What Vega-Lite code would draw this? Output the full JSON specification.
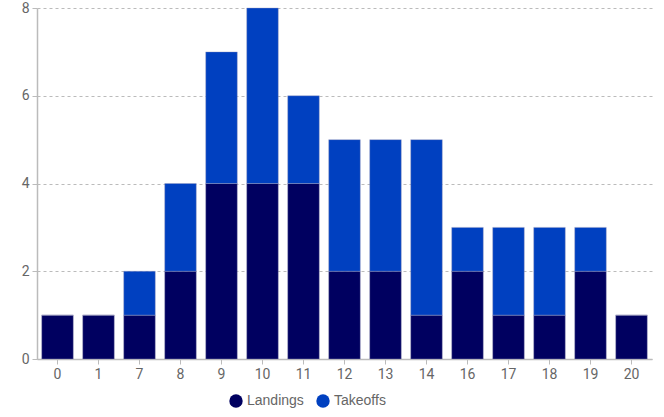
{
  "$schema": "https://vega.github.io/schema/vega-lite/v6.json",
  "width": 615,
  "height": 351,
  "autosize": "none",
  "padding": {"left": 37, "top": 8, "right": 12, "bottom": 58},
  "background": "white",
  "config": {
    "view": {"stroke": null},
    "font": "Roboto",
    "axis": {"labelFont": "Roboto", "labelColor": "#666666", "labelFontSize": 14, "titleFont": "Roboto"},
    "legend": {"labelFont": "Liberation Sans", "labelColor": "#666666", "labelFontSize": 14}
  },
  "data": {
    "values": [
      {"hour": 0, "type": "Landings", "count": 1},
      {"hour": 0, "type": "Takeoffs", "count": 0},
      {"hour": 1, "type": "Landings", "count": 1},
      {"hour": 1, "type": "Takeoffs", "count": 0},
      {"hour": 7, "type": "Landings", "count": 1},
      {"hour": 7, "type": "Takeoffs", "count": 1},
      {"hour": 8, "type": "Landings", "count": 2},
      {"hour": 8, "type": "Takeoffs", "count": 2},
      {"hour": 9, "type": "Landings", "count": 4},
      {"hour": 9, "type": "Takeoffs", "count": 3},
      {"hour": 10, "type": "Landings", "count": 4},
      {"hour": 10, "type": "Takeoffs", "count": 4},
      {"hour": 11, "type": "Landings", "count": 4},
      {"hour": 11, "type": "Takeoffs", "count": 2},
      {"hour": 12, "type": "Landings", "count": 2},
      {"hour": 12, "type": "Takeoffs", "count": 3},
      {"hour": 13, "type": "Landings", "count": 2},
      {"hour": 13, "type": "Takeoffs", "count": 3},
      {"hour": 14, "type": "Landings", "count": 1},
      {"hour": 14, "type": "Takeoffs", "count": 4},
      {"hour": 16, "type": "Landings", "count": 2},
      {"hour": 16, "type": "Takeoffs", "count": 1},
      {"hour": 17, "type": "Landings", "count": 1},
      {"hour": 17, "type": "Takeoffs", "count": 2},
      {"hour": 18, "type": "Landings", "count": 1},
      {"hour": 18, "type": "Takeoffs", "count": 2},
      {"hour": 19, "type": "Landings", "count": 2},
      {"hour": 19, "type": "Takeoffs", "count": 1},
      {"hour": 20, "type": "Landings", "count": 1},
      {"hour": 20, "type": "Takeoffs", "count": 0}
    ]
  },
  "mark": {"type": "bar", "stroke": "#a0a0c0", "strokeWidth": 0.4},
  "encoding": {
    "x": {
      "field": "hour",
      "type": "ordinal",
      "sort": "ascending",
      "scale": {"paddingInner": 0.23, "paddingOuter": 0.115},
      "axis": {
        "title": null,
        "labelAngle": 0,
        "domainColor": "#bbbbbb",
        "domainWidth": 1.5,
        "tickColor": "#bbbbbb",
        "tickSize": 5,
        "labelPadding": 3,
        "grid": false
      }
    },
    "y": {
      "field": "count",
      "type": "quantitative",
      "stack": "zero",
      "scale": {"domain": [0, 8], "nice": false},
      "axis": {
        "title": null,
        "values": [0, 2, 4, 6, 8],
        "domainColor": "#bbbbbb",
        "domainWidth": 1.5,
        "tickColor": "#bbbbbb",
        "tickSize": 5,
        "labelPadding": 3,
        "gridColor": "#bbbbbb",
        "gridDash": [3, 3],
        "gridWidth": 1
      }
    },
    "color": {
      "field": "type",
      "type": "nominal",
      "scale": {"domain": ["Landings", "Takeoffs"], "range": ["#000060", "#0040c0"]},
      "legend": {
        "title": null,
        "orient": "none",
        "direction": "horizontal",
        "legendX": 192,
        "legendY": 386,
        "symbolType": "circle",
        "symbolSize": 180,
        "symbolStrokeWidth": 0,
        "columnPadding": 12,
        "labelOffset": 4
      }
    },
    "order": {"field": "type", "sort": "ascending"}
  }
}
